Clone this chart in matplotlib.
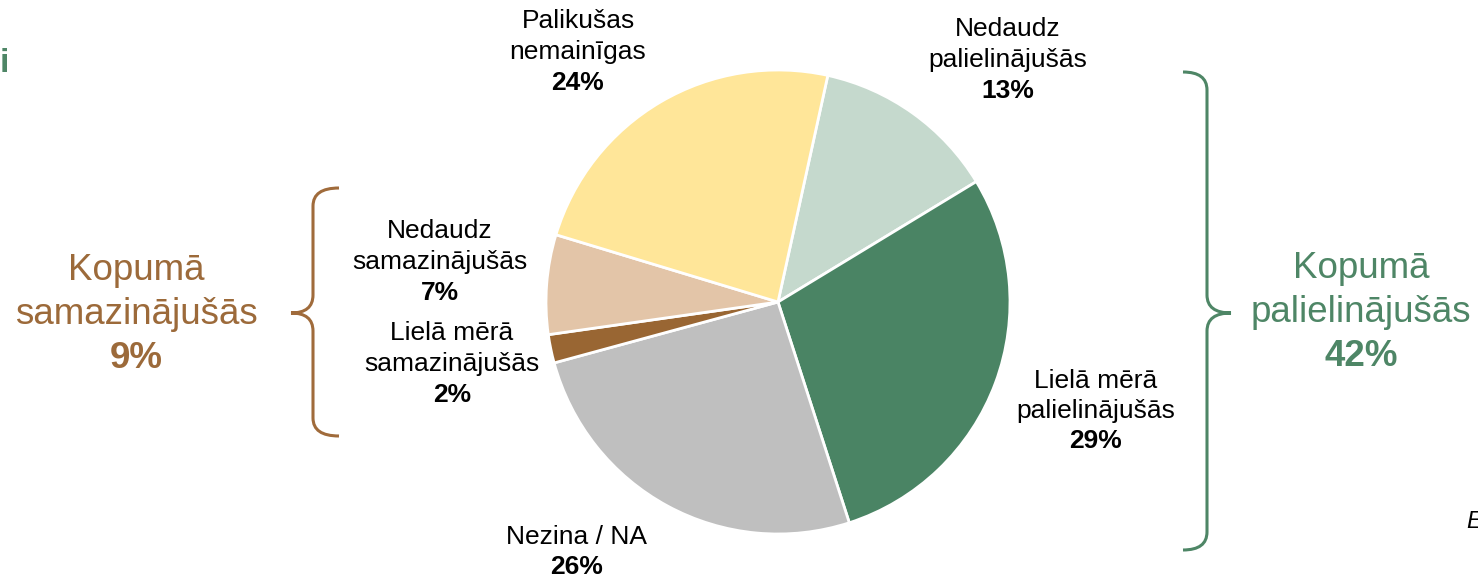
import matplotlib.pyplot as plt
from matplotlib.path import Path
from matplotlib.patches import PathPatch

plt.rcParams['font.family'] = ['Liberation Sans', 'DejaVu Sans']

# slices, clockwise from the top right
labels = ['Nedaudz\npalielinājušās', 'Lielā mērā\npalielinājušās', 'Nezina / NA',
          'Lielā mērā\nsamazinājušās', 'Nedaudz\nsamazinājušās', 'Palikušas\nnemainīgas']
values = [13, 29, 26, 2, 7, 24]
colors = ['#C5D9CD', '#4A8464', '#BFBFBF', '#996633', '#E3C5A8', '#FFE699']

total_down_label = 'Kopumā\nsamazinājušās'
total_down = 9
total_up_label = 'Kopumā\npalielinājušās'
total_up = 42

# label positions in pixels (x, y from top)
label_pos = [(1008, 60), (1096, 411), (577, 552), (452, 364), (440, 262), (578, 52)]

W, H = 1478, 578
fig = plt.figure(figsize=(W / 100, H / 100), dpi=100)
ax = fig.add_axes([0, 0, 1, 1])

cx, cy, r = 778, H - 302, 232
ax.pie(values, colors=colors, startangle=77.6, counterclock=False,
       center=(cx, cy), radius=r, frame=True,
       wedgeprops=dict(edgecolor='white', linewidth=2))
ax.set_xlim(0, W)
ax.set_ylim(0, H)
ax.set_aspect('equal')
ax.axis('off')

lh = 30.5
for lab, v, (x, y) in zip(labels, values, label_pos):
    nl = lab.count('\n') + 1
    top = y - nl * lh / 2
    for i, line in enumerate(lab.split('\n')):
        ax.text(x, H - (top + i * lh), line, ha='center', va='center', fontsize=19)
    ax.text(x, H - (top + nl * lh), f'{v}%', ha='center', va='center',
            fontsize=19, fontweight='bold')

brown = '#9C6A3A'
green = '#4E8666'


def big_total(x, y, lab, v, col):
    step = 44
    lines = lab.split('\n')
    ax.text(x, H - (y - step), lines[0], ha='center', va='center', fontsize=26.5, color=col)
    ax.text(x, H - y, lines[1], ha='center', va='center', fontsize=26.5, color=col)
    ax.text(x, H - (y + step), f'{v}%', ha='center', va='center', fontsize=26.5,
            color=col, fontweight='bold')


big_total(136, 314, total_down_label, total_down, brown)
big_total(1361, 312, total_up_label, total_up, green)


def brace(x_end, x_mid, x_tip, y_top, y_tip, y_bot, col):
    c = 18
    verts = [(x_end, y_top), (x_mid, y_top), (x_mid, y_top + c),
             (x_mid, y_tip - c), (x_mid, y_tip), (x_tip, y_tip),
             (x_mid, y_tip), (x_mid, y_tip + c),
             (x_mid, y_bot - c), (x_mid, y_bot), (x_end, y_bot)]
    codes = [Path.MOVETO, Path.CURVE3, Path.CURVE3,
             Path.LINETO, Path.CURVE3, Path.CURVE3,
             Path.CURVE3, Path.CURVE3,
             Path.LINETO, Path.CURVE3, Path.CURVE3]
    verts = [(vx, H - vy) for vx, vy in verts]
    ax.add_patch(PathPatch(Path(verts, codes), facecolor='none', edgecolor=col, lw=2.2))


brace(339, 313, 291, 188, 313, 436, '#A06B3B')
brace(1183, 1207, 1231, 72, 313, 550, '#4E8666')

# text cut at the edges of the slide
ax.text(9, H - 63, 'i', ha='right', va='center', fontsize=24, fontweight='bold', color=green)
ax.text(1466, H - 522, 'E', ha='left', va='center', fontsize=17, style='italic')

fig.savefig('out.png', dpi=100)
